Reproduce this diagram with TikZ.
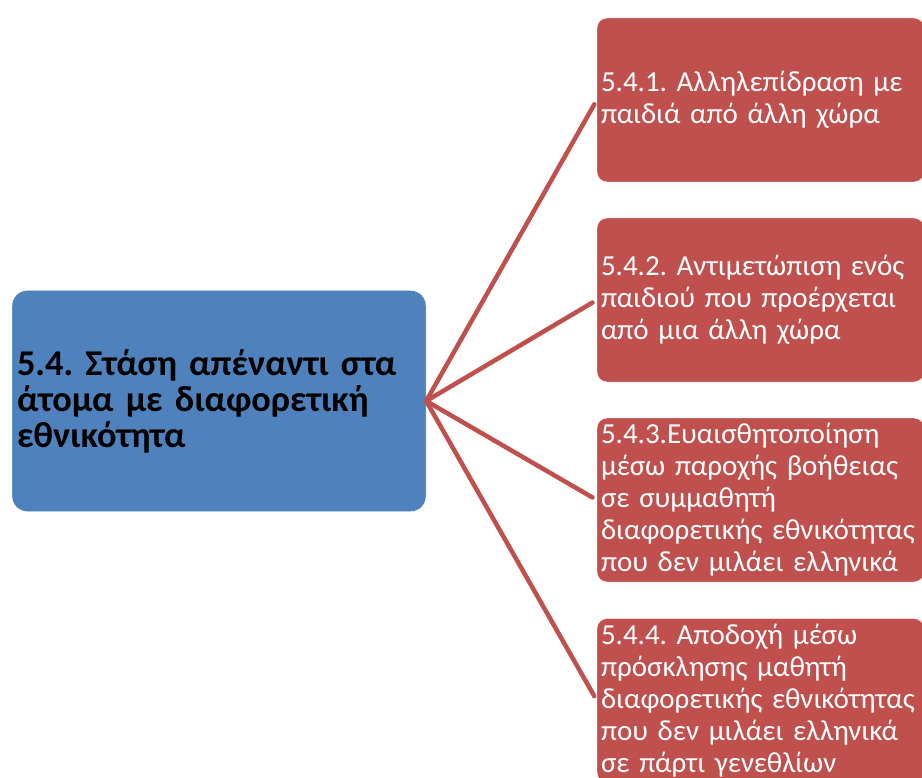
\documentclass[tikz,border=0pt]{standalone}
\usepackage{fontspec}
\setmainfont{Carlito}
\begin{document}
\begin{tikzpicture}[x=1pt,y=-1pt,line cap=round]
        % Colors
        \definecolor{hubcolor}{HTML}{4F81BD}
        \definecolor{leafcolor}{HTML}{C0504D}
        % Styles
        \tikzstyle{hub box}=[rectangle,rounded corners=15pt,fill=hubcolor,draw=white,
            inner xsep=5pt,inner ysep=0pt,minimum width=414pt,minimum height=221pt,
            text width=404pt,align=left,font=\frenchspacing\bfseries\fontsize{36.3}{36}\selectfont]
        \tikzstyle{leaf box}=[rectangle,rounded corners=10pt,fill=leafcolor,draw=white,
            text=white,inner xsep=4pt,inner ysep=0pt,minimum width=327pt,minimum height=164pt,
            text width=319pt,align=left,font=\frenchspacing\fontsize{29}{32}\selectfont]
        \tikzstyle{branch}=[draw=leafcolor,line width=4.5pt,shorten >=5pt]
        %The graphic
        \useasboundingbox[fill=white] (0,0) rectangle (922,778);
        \node[hub box] (hub) at (219,401) {5.4. Στάση απέναντι στα\\άτομα με διαφορετική\\εθνικότητα};
        \node[leaf box] (leaf1) at (760.5,100) {5.4.1. Αλληλεπίδραση με\\παιδιά από άλλη χώρα};
        \node[leaf box] (leaf2) at (760.5,300) {5.4.2. Αντιμετώπιση ενός\\παιδιού που προέρχεται\\από μια άλλη χώρα};
        \node[leaf box] (leaf3) at (760.5,500) {5.4.3.Ευαισθητοποίηση\\μέσω παροχής βοήθειας\\σε συμμαθητή\\διαφορετικής εθνικότητας\\που δεν μιλάει ελληνικά};
        \node[leaf box] (leaf4) at (760.5,700.5) {5.4.4. Αποδοχή μέσω\\πρόσκλησης μαθητή\\διαφορετικής εθνικότητας\\που δεν μιλάει ελληνικά\\σε πάρτι γενεθλίων};
        \foreach \leaf in {leaf1,leaf2,leaf3,leaf4}
            \draw[branch] (hub.east) -- (\leaf.west);
    \end{tikzpicture}
\end{document}
